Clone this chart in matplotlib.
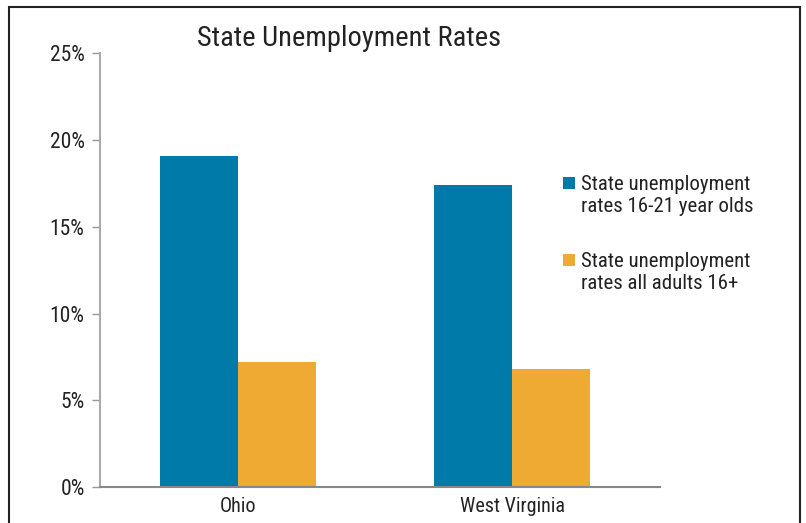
import matplotlib.pyplot as plt
from matplotlib.patches import Rectangle
from matplotlib.legend_handler import HandlerPatch
from matplotlib.ticker import FuncFormatter

plt.rcParams['font.family'] = ['Roboto Condensed', 'Liberation Sans Narrow', 'Roboto', 'DejaVu Sans']

# Unemployment rates (%) by state
states = ["Ohio", "West Virginia"]
youth_rates = [19.1, 17.4]
adult_rates = [7.2, 6.8]
series_labels = ["State unemployment\nrates 16-21 year olds",
                 "State unemployment\nrates all adults 16+"]

blue = "#007aa8"
orange = "#eeaa33"
text_col = "#222222"


def top_square(legend, orig_handle, xdescent, ydescent, width, height, fontsize):
    # legend square sits next to the first line of a two-line label
    s = 0.55 * fontsize
    return Rectangle((-xdescent, -ydescent + height / 2 - s / 2 + 0.6 * fontsize), s, s)


fig = plt.figure(figsize=(8.06, 5.23), dpi=100)
ax = fig.add_axes([0.124, 0.0683, 0.695, 0.8297])

x = range(len(states))
w = 0.285
b1 = ax.bar([i - w / 2 for i in x], youth_rates, width=w, color=blue)
b2 = ax.bar([i + w / 2 for i in x], adult_rates, width=w, color=orange)

ax.set_xlim(-0.504, 1.54)
ax.set_ylim(0, 25)
ax.set_yticks([0, 5, 10, 15, 20, 25])
ax.yaxis.set_major_formatter(FuncFormatter(lambda v, p: f"{v:.0f}%"))
ax.set_xticks(list(x))
ax.set_xticklabels(states)
ax.tick_params(axis='y', length=6, width=1, color="#999999", labelsize=15.5,
               labelcolor=text_col, pad=5)
ax.tick_params(axis='x', length=0, labelsize=14.5, labelcolor=text_col, pad=7)

for side in ["top", "right"]:
    ax.spines[side].set_visible(False)
ax.spines["left"].set_color("#aaaaaa")
ax.spines["left"].set_linewidth(1.5)
ax.spines["bottom"].set_color("#888888")
ax.spines["bottom"].set_linewidth(1.5)

fig.text(0.433, 0.927, "State Unemployment Rates", ha="center", va="center",
         fontsize=20.5, color=text_col)

ax.legend([b1[0], b2[0]], series_labels,
          loc="upper left", bbox_to_anchor=(0.827, 0.72), frameon=False,
          fontsize=15, handlelength=0.55, handleheight=0.55, handletextpad=0.3,
          labelspacing=1.72, labelcolor=text_col, borderaxespad=0, borderpad=0,
          handler_map={Rectangle: HandlerPatch(patch_func=top_square)})

# outer frame around the figure
fig.patches.append(Rectangle((9 / 806, -0.05), 791 / 806, 1.05 - 7 / 523,
                             transform=fig.transFigure, fill=False,
                             edgecolor=text_col, linewidth=1.5))

fig.savefig("out.png", dpi=100)
